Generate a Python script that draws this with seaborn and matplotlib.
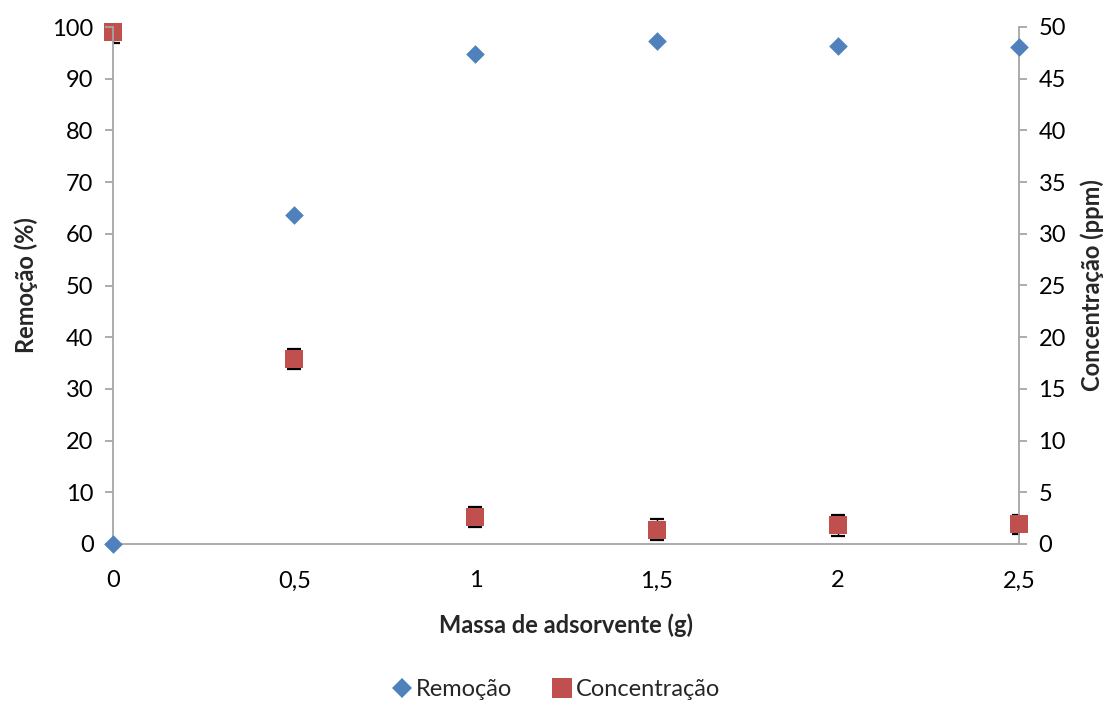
import matplotlib
matplotlib.use("Agg")
import matplotlib.pyplot as plt
import seaborn as sns
import pandas as pd
from matplotlib.lines import Line2D

# Data
massa = [0, 0.5, 1, 1.5, 2, 2.5]
remocao = [0, 63.7, 94.8, 97.3, 96.3, 96.2]
concentracao = [49.5, 17.9, 2.6, 1.4, 1.8, 1.9]
erro_conc = [1.0, 1.0, 1.0, 1.05, 1.0, 0.95]
x_ticks = [0, 0.5, 1, 1.5, 2, 2.5]
x_labels = ["0", "0,5", "1", "1,5", "2", "2,5"]

sns.set_theme(style="white")
plt.rcParams["font.family"] = ["Lato", "DejaVu Sans"]

blue = "#4F81BD"
red = "#C0504D"
grey = "#A6A6A6"

df = pd.DataFrame({"massa": massa, "remocao": remocao,
                   "concentracao": concentracao, "erro": erro_conc})

fig = plt.figure(figsize=(11.1, 7.02), dpi=100)
ax = fig.add_axes([113 / 1110, 1 - 544 / 702, (1019 - 113) / 1110, (544 - 27) / 702])
ax2 = ax.twinx()

# Concentration series with error bars on the right axis (bars clipped to the plot area)
ax2.errorbar(df["massa"], df["concentracao"], yerr=df["erro"], fmt="none",
             ecolor="black", elinewidth=1.0, capsize=4.8, capthick=1.6,
             zorder=2, clip_on=True)
sns.scatterplot(data=df, x="massa", y="concentracao", ax=ax2, marker="s",
                s=185, color=red, edgecolor=red, linewidth=0, zorder=3,
                clip_on=False, legend=False)

# Removal series on the left axis
sns.scatterplot(data=df, x="massa", y="remocao", ax=ax, marker="D",
                s=90, color=blue, edgecolor=blue, linewidth=0, zorder=3,
                clip_on=False, legend=False)
ax.set_zorder(ax2.get_zorder() + 1)
ax.patch.set_visible(False)

ax.set_xlim(0, 2.5)
ax.set_ylim(0, 100)
ax2.set_ylim(0, 50)
ax.set_xticks(x_ticks)
ax.set_xticklabels(x_labels)
ax.set_yticks(range(0, 101, 10))
ax2.set_yticks(range(0, 51, 5))

for a in (ax, ax2):
    a.spines["top"].set_visible(False)
    a.tick_params(colors=grey, labelcolor="black", labelsize=17, length=6, width=1.3)
ax.spines["right"].set_visible(False)
ax.spines["left"].set_color(grey)
ax.spines["bottom"].set_color(grey)
ax.spines["left"].set_linewidth(1.3)
ax.spines["bottom"].set_linewidth(1.3)
ax2.spines["left"].set_visible(False)
ax2.spines["bottom"].set_visible(False)
ax2.spines["right"].set_color(grey)
ax2.spines["right"].set_linewidth(1.3)
ax.tick_params(axis="x", direction="inout", length=10, pad=14)
ax.tick_params(axis="y", direction="out", pad=8)
ax2.tick_params(axis="y", direction="out", pad=8)
ax.grid(False)
ax2.grid(False)

ax.set_xlabel("Massa de adsorvente (g)", fontsize=17, fontweight="bold", labelpad=16)
ax.set_ylabel("Remoção (%)", fontsize=17, fontweight="bold", labelpad=10)
ax2.set_ylabel("Concentração (ppm)", fontsize=17, fontweight="bold", labelpad=10)

handles = [
    Line2D([], [], marker="D", linestyle="none", color=blue, markersize=10, markeredgewidth=0),
    Line2D([], [], marker="s", linestyle="none", color=red, markersize=15, markeredgewidth=0),
]
fig.legend(handles, ["Remoção", "Concentração"], loc="center",
           bbox_to_anchor=(0.5, 1 - 690 / 702), ncol=2, frameon=False,
           fontsize=17, handletextpad=0.1, columnspacing=1.6, handlelength=1.0)

fig.savefig("out.png", dpi=100)
